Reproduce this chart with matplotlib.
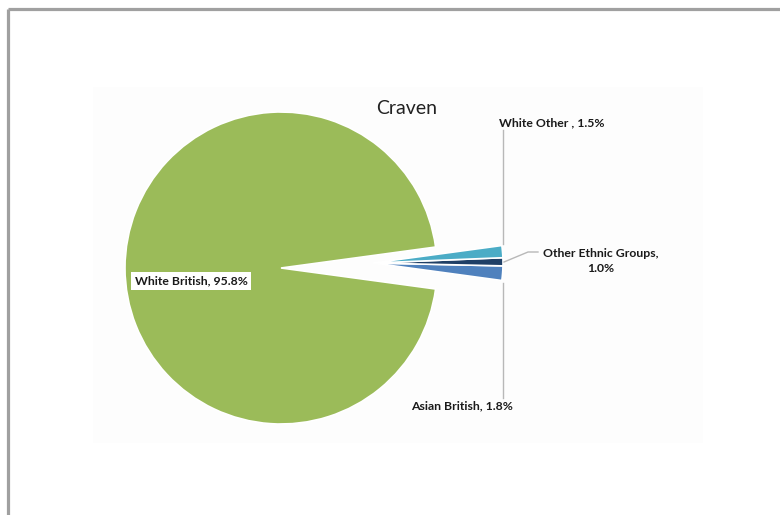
import matplotlib.pyplot as plt
from matplotlib.patches import Rectangle

# Craven ethnic groups (%)
groups = ["Asian British", "Other Ethnic Groups", "White Other", "White British"]
shares = [1.8, 1.0, 1.5, 95.8]
colors = ["#4F81BD", "#1F3F66", "#4BACC6", "#9BBB59"]

H = 515  # image height in px, axes use pixel units with y up


def Y(y):
    return H - y


fig = plt.figure(figsize=(7.8, 5.15), dpi=100)
ax = fig.add_axes([0, 0, 1, 1])

# faint chart area
ax.add_patch(Rectangle((93, Y(443)), 610, 356, facecolor="#fdfdfd", edgecolor="none", zorder=0))

small_total = sum(shares[:3])
wedges, _ = ax.pie(shares, colors=colors, startangle=-small_total / 2 * 3.6,
                   counterclock=True, center=(281, Y(268)), radius=156,
                   wedgeprops=dict(edgecolor="white", linewidth=1.2))

# small slices pulled out to the right
for w in wedges[:3]:
    w.set_center((373, Y(263)))
    w.set_radius(130)

lab = dict(fontsize=8.8, fontweight="bold", family=["Lato", "DejaVu Sans"], color="#1a1a1a")
ax.text(191, Y(281), f"{groups[3]}, {shares[3]}%", ha="center", va="center",
        bbox=dict(facecolor="white", edgecolor="none", pad=2.5), **lab)
ax.text(552, Y(123), f"{groups[2]} , {shares[2]}%", ha="center", va="center", **lab)
ax.text(601, Y(261), f"{groups[1]},\n{shares[1]}%", ha="center", va="center",
        linespacing=1.4, **lab)
ax.text(462, Y(406), f"{groups[0]}, {shares[0]}%", ha="center", va="center", **lab)

# leader lines
lc = "#b8b8b8"
ax.plot([503, 503], [Y(130), Y(244)], color=lc, lw=1)
ax.plot([503, 503], [Y(283), Y(398)], color=lc, lw=1)
ax.plot([504, 528, 538], [Y(262), Y(252), Y(252)], color=lc, lw=1)

ax.text(407, Y(108), "Craven", ha="center", va="center", fontsize=14,
        family=["Lato", "DejaVu Sans"], color="#222222")

# page border (top and left)
ax.plot([7.5, 7.5], [0, Y(9)], color="#a0a0a0", lw=2.3, solid_capstyle="butt")
ax.plot([7.5, 780], [Y(9), Y(9)], color="#a0a0a0", lw=2.3, solid_capstyle="butt")

ax.set_xlim(0, 780)
ax.set_ylim(0, H)
ax.set_aspect("equal")
ax.axis("off")

fig.savefig("out.png", dpi=100)
